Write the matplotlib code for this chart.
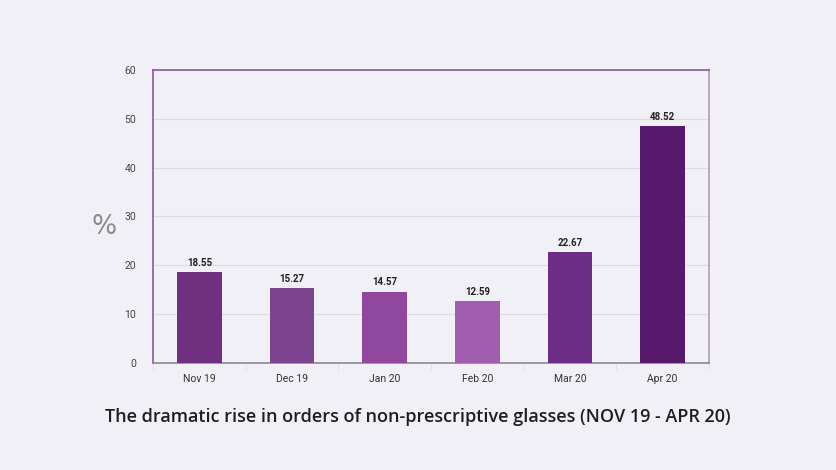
import matplotlib.pyplot as plt
import numpy as np

months = ["Nov 19", "Dec 19", "Jan 20", "Feb 20", "Mar 20", "Apr 20"]
values = [18.55, 15.27, 14.57, 12.59, 22.67, 48.52]
bar_colors = ["#70307f", "#7b4390", "#8f489e", "#a25cb0", "#6c2d86", "#56196b"]
yticks = [0, 10, 20, 30, 40, 50, 60]

bg = "#f1f0f7"
plt.rcParams["font.family"] = ["Roboto", "DejaVu Sans"]
fig = plt.figure(figsize=(8.36, 4.70), dpi=100, facecolor=bg)
ax = fig.add_axes([0.183, 0.228, 0.665, 0.623], facecolor=bg)

x = np.arange(len(months))
ax.bar(x, values, width=0.48, color=bar_colors, zorder=3)
for xi, v in zip(x, values):
    ax.text(xi, v + 0.9, f"{v:.2f}", ha="center", va="bottom",
            fontsize=7, fontweight="bold", color="#222222", zorder=4)

ax.set_xlim(-0.5, len(months) - 0.5)
ax.set_ylim(0, 60)
ax.set_yticks(yticks)
ax.set_xticks(x)
ax.set_xticklabels(months)
ax.set_xticks(np.arange(-0.5, len(months)), minor=True)
ax.tick_params(axis="x", which="major", length=0, pad=8, labelsize=7.5, labelcolor="#333333")
ax.tick_params(axis="x", which="minor", length=5, color="#dddde6")
ax.tick_params(axis="y", length=0, pad=12, labelsize=7.5, labelcolor="#444444")

ax.grid(axis="y", color="#dcdbe3", linewidth=0.9, zorder=0)
ax.spines["top"].set_color("#8a5a98")
ax.spines["left"].set_color("#8a5a98")
ax.spines["right"].set_color("#b39bbd")
ax.spines["bottom"].set_color("#8c8796")
for s in ax.spines.values():
    s.set_linewidth(1.2)

fig.text(0.125, 0.518, "%", fontsize=19, color="#8a8a8a", ha="center", va="center",
         family="DejaVu Sans")
fig.text(0.5, 0.112, "The dramatic rise in orders of non-prescriptive glasses (NOV 19 - APR 20)",
         fontsize=13, color="#1e1e1e", ha="center", va="center",
         family="Open Sans", fontweight="semibold")

fig.savefig("out.png", dpi=100, facecolor=bg)
